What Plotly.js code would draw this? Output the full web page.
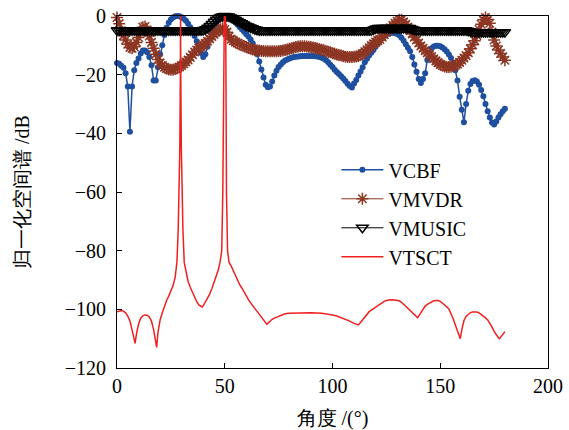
<!DOCTYPE html>
<html>
<head>
<meta charset="utf-8">
<script src="https://cdn.plot.ly/plotly-3.0.1.min.js"></script>
<style>html,body{margin:0;padding:0;background:#fff;}#chart{width:569px;height:430px;}</style>
</head>
<body>
<div id="chart"></div>
<script>
const angle = [0,1,2,3,4,5,6,7,8,9,10,11,12,13,14,15,16,17,18,19,20,21,22,23,24,25,26,27,28,29,30,31,32,33,34,35,36,37,38,39,40,41,42,43,44,45,46,47,48,49,50,51,52,53,54,55,56,57,58,59,60,61,62,63,64,65,66,67,68,69,70,71,72,73,74,75,76,77,78,79,80,81,82,83,84,85,86,87,88,89,90,91,92,93,94,95,96,97,98,99,100,101,102,103,104,105,106,107,108,109,110,111,112,113,114,115,116,117,118,119,120,121,122,123,124,125,126,127,128,129,130,131,132,133,134,135,136,137,138,139,140,141,142,143,144,145,146,147,148,149,150,151,152,153,154,155,156,157,158,159,160,161,162,163,164,165,166,167,168,169,170,171,172,173,174,175,176,177,178,179,180];

const vcbf = [
-16,-16.3,-17,-17.6,-19.5,-24,-39.5,-24,-18.5,-16,
-14.5,-12.8,-11.8,-11.8,-12.4,-14,-16.8,-22,-22,-17.5,
-13,-10,-6.5,-4,-2.3,-1.2,-0.5,-0.1,0,-0.1,
-0.4,-0.9,-1.6,-2.6,-3.8,-5.2,-6.8,-8.6,-10.6,-12.6,
-14,-13,-10.5,-7.8,-5.6,-3.8,-2.4,-1.3,-0.5,-0.1,
0,-0.1,-0.4,-0.9,-1.5,-2.2,-3,-3.8,-4.6,-5.4,
-6.2,-7,-8,-9.3,-11,-13,-15.5,-18.2,-21,-23.4,
-24.3,-24,-22.3,-20.3,-18.7,-17.4,-16.5,-15.8,-15.2,-14.8,
-14.5,-14.2,-14,-13.9,-13.8,-13.7,-13.6,-13.6,-13.6,-13.6,
-13.6,-13.6,-13.7,-13.8,-14,-14.2,-14.6,-15.1,-15.8,-16.6,
-17.4,-18.3,-19.1,-19.8,-20.5,-21.3,-22.2,-23.1,-23.9,-24.4,
-23,-21.8,-20.3,-18.9,-17.5,-15.8,-14.6,-13.5,-12.5,-11.6,
-10.5,-9.5,-8.5,-7.6,-6.8,-6.3,-6,-5.8,-5.7,-5.8,
-6.1,-6.6,-7.4,-8.4,-9.6,-10.8,-12,-14,-16.5,-19,
-21.5,-22.8,-21.5,-19.5,-15,-12.5,-11,-10.4,-10.1,-10.1,
-10.3,-10.7,-11.3,-12.1,-13.1,-14.3,-16,-18.5,-22,-27.5,
-32,-36.2,-30,-25.5,-23.2,-22.2,-21.9,-22.3,-23.4,-25.2,
-27.4,-30,-32.5,-34.6,-36.3,-37,-36,-34.6,-33.5,-32.5,
-31.6];

const vmvdr = [
-0.5,-2.6,-5,-6.7,-8.2,-9.6,-10.7,-11,-10.5,-9,
-7.3,-5.3,-3.8,-3.6,-4.8,-6.8,-9,-11,-13,-14.8,
-16,-16.9,-17.5,-17.9,-18.2,-18.3,-18.3,-18.1,-17.8,-17.4,
-16.9,-16.3,-15.7,-15,-14.1,-13.2,-12.3,-11.6,-11,-10.4,
-9.9,-9.3,-8.6,-7.8,-7,-6.2,-5.5,-5,-4.5,-4.3,
-4.6,-5.5,-7,-7.9,-8.4,-8.9,-9.3,-9.7,-10,-10.3,
-10.6,-10.9,-11.2,-11.4,-11.6,-11.7,-11.8,-11.9,-11.9,-12,
-12,-12,-12,-12,-12,-11.9,-11.9,-11.8,-11.6,-11.4,
-11.2,-11,-10.8,-10.6,-10.4,-10.3,-10.3,-10.3,-10.4,-10.5,
-10.6,-10.7,-10.9,-11.1,-11.3,-11.5,-11.7,-12,-12.2,-12.4,
-12.7,-12.9,-13.1,-13.3,-13.5,-13.7,-13.9,-14,-14,-14,
-13.9,-13.8,-13.6,-13.3,-12.8,-12.2,-11.5,-10.8,-10.1,-9.5,
-8.9,-8.4,-8,-7.2,-6.4,-5.6,-4.8,-4,-3.2,-2.5,
-1.8,-1.3,-1.3,-2,-2.8,-3.8,-5,-6.1,-7.2,-8.2,
-9.2,-10.2,-11,-11.8,-12.5,-13.2,-13.8,-14.6,-15.3,-15.9,
-16.5,-16.9,-17.2,-17.4,-17.4,-17.3,-17.1,-16.8,-16.4,-15.8,
-15.1,-14.3,-13.5,-12.5,-11.2,-9.8,-8.4,-6.6,-4.6,-2.8,
-1.3,-0.5,-1.2,-2.5,-5.5,-8.2,-10.2,-11.6,-12.8,-14,
-15.1];

const vmusic = [
-4.9,-4.9,-4.9,-4.9,-4.9,-4.9,-4.9,-4.9,-4.9,-4.9,
-4.9,-4.9,-4.9,-4.9,-4.9,-4.9,-4.9,-4.9,-4.9,-4.9,
-4.9,-4.9,-4.9,-4.9,-4.9,-4.9,-4.9,-4.9,-4.9,-4.9,
-4.9,-4.9,-4.9,-4.9,-4.9,-4.9,-4.9,-4.9,-4.9,-4.9,
-4.8,-4.5,-4,-3.4,-2.7,-2,-1.3,-0.7,-0.3,-0.05,
0,-0.05,-0.2,-0.5,-0.9,-1.3,-1.7,-2.1,-2.5,-2.9,
-3.3,-3.6,-3.9,-4.2,-4.5,-4.7,-4.9,-4.9,-4.9,-4.9,
-4.9,-4.9,-4.9,-4.9,-4.9,-4.9,-4.9,-4.9,-4.9,-4.9,
-4.9,-4.9,-4.9,-4.9,-4.9,-4.9,-4.9,-4.9,-4.9,-4.9,
-4.9,-4.9,-4.9,-4.9,-4.9,-4.9,-4.9,-4.9,-4.9,-4.9,
-4.9,-4.9,-4.9,-4.9,-4.9,-4.9,-4.9,-4.9,-4.9,-4.9,
-4.9,-4.9,-4.9,-4.9,-4.9,-4.9,-4.9,-4.9,-4.9,-4.6,
-4.3,-4.1,-4.1,-4.1,-4.1,-4.1,-4.1,-4.1,-4.1,-4.1,
-4.1,-4.1,-4.1,-4.1,-4.1,-4.1,-4.1,-4.4,-4.7,-4.9,
-4.9,-4.9,-4.9,-4.9,-4.9,-4.9,-4.9,-4.9,-4.9,-4.9,
-4.9,-4.9,-4.9,-4.9,-4.9,-4.9,-4.9,-4.9,-4.9,-4.9,
-4.9,-4.9,-4.9,-5,-5.2,-5.4,-5.5,-5.5,-5.5,-5.5,
-5.5,-5.5,-5.5,-5.5,-5.5,-5.5,-5.5,-5.5,-5.5,-5.5,
-5.5];

const vtsctAngle = [0,1,2,3,4,5,6,7,8,8.4,9,10,11,12,13,14,15,16,17,18,18.4,19,20,21,22,23,24,25,26,27,27.8,28.4,28.8,29.15,29.4,29.5,29.6,29.85,30.2,30.6,31.2,32,33,34,35,36,37,38,39,39.5,40,41,42,43,44,45,46,47,47.8,48.6,49.1,49.3,49.45,49.8,50,50.2,50.45,50.6,50.8,51.3,52,53,54,55,56,57,58,59,60,61,62,63,64,65,66,67,68,69,69.5,70,71,72,73,74,75,76,77,78,80,85,90,95,98,100,102,104,106,108,110,112,113,114,115,116,117,118,119,120,121,122,123,124,125,126,128,130,131,132,133,134,135,136,137,138,139,139.5,140,141,142,143,144,145,146,147,148,149,150,151,152,153,154,155,156,157,158,159,159.3,160,161,162,163,164,165,166,167,168,169,170,171,172,173,174,175,176,177,177.5,178,179,180];
const vtsct = [-100.8,-100.5,-100.4,-100.6,-101.2,-102.3,-104,-107,-111,-111.6,-108.5,-105,-103,-102.2,-101.9,-102,-102.6,-104,-107,-111.5,-113,-108,-103.6,-101.2,-99,-97,-95.5,-94,-92,-89,-84,-73,-60,-45,-20,0,-20,-45,-60,-73,-84,-87.5,-90.5,-92.5,-94.3,-96,-97.4,-98.5,-99.1,-99.2,-98.8,-97.6,-96.2,-94.8,-93,-91,-89,-86.6,-84,-80,-60,-35,-3,-0.3,0,-0.3,-3,-35,-60,-80,-84,-85.3,-87,-88.7,-90.3,-91.7,-92.8,-94.2,-95.5,-96.7,-97.8,-98.8,-99.7,-100.5,-101.5,-102.6,-103.7,-104.8,-105.1,-104.8,-104,-103.4,-103,-102.7,-102.3,-102,-101.7,-101.5,-101.3,-101.2,-101.2,-101.3,-101.6,-101.9,-102.3,-102.8,-103.4,-104,-104.8,-105.3,-104.5,-103.5,-102.4,-101.5,-100.8,-100.3,-99.8,-99.2,-98.6,-98.1,-97.7,-97.3,-97,-96.8,-96.7,-96.8,-97.1,-97.6,-98.3,-99.1,-99.8,-100.4,-101.2,-102,-102.7,-102.8,-102.3,-101,-99.8,-98.9,-98.3,-97.8,-97.4,-97.1,-97,-97,-97.3,-97.8,-98.4,-99.1,-99.9,-101.3,-103.2,-105.3,-107.5,-109.5,-110,-107,-103.8,-102.4,-101.6,-101.1,-100.9,-100.8,-100.9,-101.2,-101.7,-102.3,-102.9,-103.6,-104.6,-106,-107.5,-108.8,-109.7,-110,-109.5,-108.6,-107.6];

const seriesNames = ['VCBF','VMVDR','VMUSIC','VTSCT'];
const xTicks = [0,50,100,150,200];
const yTicks = [-120,-100,-80,-60,-40,-20,0];

const f20 = {family: 'Liberation Serif', size: 20, color: '#000000'};

const traces = [
  {x: angle, y: vcbf, name: seriesNames[0], mode: 'lines+markers', cliponaxis: false,
   line: {color: '#1f4f9f', width: 1.5},
   marker: {symbol: 'circle', size: 6, color: '#1f4f9f'}},
  {x: angle, y: vmvdr, name: seriesNames[1], mode: 'lines+markers', cliponaxis: false,
   line: {color: '#8c3623', width: 1},
   marker: {symbol: 'asterisk-open', size: 10, color: '#8c3623', line: {color: '#8c3623', width: 1.5}}},
  {x: angle, y: vmusic, name: seriesNames[2], mode: 'lines+markers', cliponaxis: false,
   line: {color: '#000000', width: 1},
   marker: {symbol: 'triangle-down-open', size: 10, color: '#000000', line: {color: '#000000', width: 1.5}}},
  {x: vtsctAngle, y: vtsct, name: seriesNames[3], mode: 'lines',
   line: {color: '#f02020', width: 1.5}}
];

const layout = {
  width: 569, height: 430,
  font: f20,
  margin: {l: 117, r: 21, t: 16, b: 62},
  paper_bgcolor: '#ffffff', plot_bgcolor: '#ffffff',
  showlegend: true,
  legend: {x: 0.509, y: 0.6185, xanchor: 'left', yanchor: 'top', itemwidth: 42,
           bgcolor: 'rgba(0,0,0,0)', borderwidth: 0, font: f20},
  xaxis: {range: [0, 200], tickvals: xTicks,
          ticks: 'inside', ticklen: 5, tickcolor: '#000',
          showline: true, linecolor: '#000', linewidth: 1, mirror: true,
          showgrid: false, zeroline: false, ticklabelstandoff: 0,
          tickfont: f20,
          title: {text: '角度 /(°)', font: f20, standoff: 19}},
  yaxis: {range: [-120, 0], tickvals: yTicks,
          ticks: 'inside', ticklen: 5, tickcolor: '#000',
          showline: true, linecolor: '#000', linewidth: 1, mirror: true,
          showgrid: false, zeroline: false, ticklabelstandoff: 6,
          tickfont: f20,
          title: {text: '归一化空间谱 /dB', font: f20, standoff: 29}}
};

Plotly.newPlot('chart', traces, layout, {displayModeBar: false, staticPlot: true});
</script>
</body>
</html>
